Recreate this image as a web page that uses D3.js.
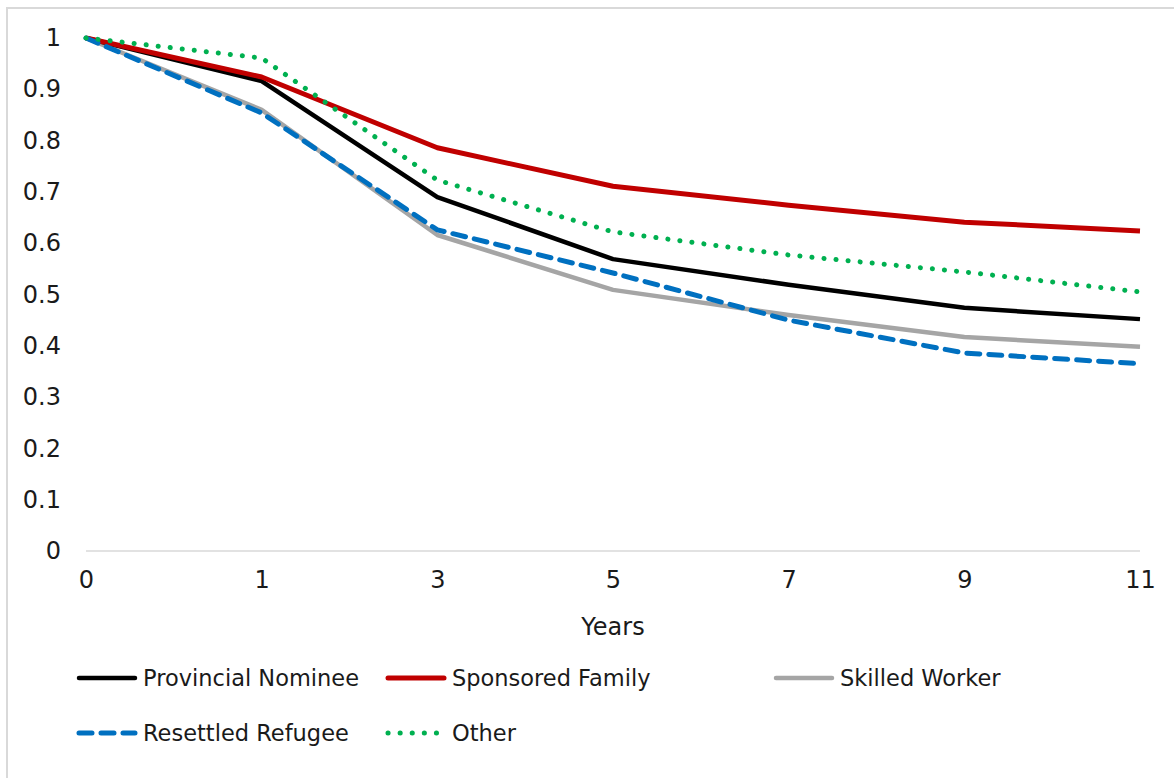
<!DOCTYPE html>
<html>
<head>
<meta charset="utf-8">
<script src="https://cdn.jsdelivr.net/npm/d3@7"></script>
<style>
  html, body { margin: 0; padding: 0; background: #fff; }
  svg { display: block; }
  text { font-family: "DejaVu Sans", "Noto Sans", sans-serif; fill: #1a1a1a; }
</style>
</head>
<body>
<svg id="chart" width="1174" height="778"></svg>
<script>
// Years since landing (categorical axis, evenly spaced)
const years = ["0", "1", "3", "5", "7", "9", "11"];

// Share of each immigrant category still present after N years
const provincialNominee = [1, 0.916, 0.690, 0.569, 0.519, 0.474, 0.452];
const sponsoredFamily   = [1, 0.924, 0.786, 0.711, 0.674, 0.641, 0.624];
const skilledWorker     = [1, 0.860, 0.616, 0.509, 0.460, 0.417, 0.398];
const resettledRefugee  = [1, 0.854, 0.626, 0.542, 0.450, 0.386, 0.365];
const other             = [1, 0.961, 0.723, 0.622, 0.577, 0.544, 0.505];

const yTicks = [0, 0.1, 0.2, 0.3, 0.4, 0.5, 0.6, 0.7, 0.8, 0.9, 1];

const seriesNames = ["Provincial Nominee", "Sponsored Family", "Skilled Worker", "Resettled Refugee", "Other"];

// drawing order: grey first so the dashed blue sits on top of it
const series = [
  { name: seriesNames[2], values: skilledWorker,     color: "#a5a5a5", width: 4.5, dash: null },
  { name: seriesNames[0], values: provincialNominee, color: "#000000", width: 4.5, dash: null },
  { name: seriesNames[1], values: sponsoredFamily,   color: "#c00000", width: 5,   dash: null },
  { name: seriesNames[3], values: resettledRefugee,  color: "#0070c0", width: 5,   dash: "13 9" },
  { name: seriesNames[4], values: other,             color: "#00b050", width: 5,   dash: "0.1 12" }
];

const svg = d3.select("#chart");

// chart frame
svg.append("rect")
  .attr("x", 7).attr("y", 8)
  .attr("width", 1180).attr("height", 790)
  .attr("fill", "none")
  .attr("stroke", "#d9d9d9")
  .attr("stroke-width", 2);

const x = d3.scalePoint().domain(years).range([86, 1140]);
const y = d3.scaleLinear().domain([0, 1]).range([551, 38]);

// x axis baseline
svg.append("line")
  .attr("x1", 86).attr("x2", 1140)
  .attr("y1", y(0)).attr("y2", y(0))
  .attr("stroke", "#d9d9d9").attr("stroke-width", 1.5);

// y axis labels
const yAxis = d3.axisLeft(y).tickValues(yTicks).tickSize(0).tickPadding(0)
  .tickFormat(d => d3.format("")(+d.toFixed(1)));
const gy = svg.append("g").attr("transform", "translate(61,0)").call(yAxis);
gy.select(".domain").remove();
gy.selectAll("text")
  .attr("font-size", 24)
  .attr("font-family", null)
  .attr("fill", "#1a1a1a");

// x axis labels
const xAxis = d3.axisBottom(x).tickSize(0).tickPadding(0);
const gx = svg.append("g").attr("transform", "translate(0,571)").call(xAxis);
gx.select(".domain").remove();
gx.selectAll("text")
  .attr("font-size", 24)
  .attr("font-family", null)
  .attr("fill", "#1a1a1a");

svg.append("text")
  .attr("x", 613).attr("y", 635)
  .attr("text-anchor", "middle")
  .attr("font-size", 24)
  .text("Years");

const line = d3.line()
  .x((d, i) => x(years[i]))
  .y(d => y(d));

svg.append("g").selectAll("path")
  .data(series)
  .join("path")
  .attr("d", d => line(d.values))
  .attr("fill", "none")
  .attr("stroke", d => d.color)
  .attr("stroke-width", d => d.width)
  .attr("stroke-linejoin", "round")
  .attr("stroke-linecap", d => d.dash ? "round" : "butt")
  .attr("stroke-dasharray", d => d.dash);

// legend
const legendItems = [
  { s: series[1], lx: 76,  ly: 678 },
  { s: series[2], lx: 385, ly: 678 },
  { s: series[0], lx: 773, ly: 678 },
  { s: series[3], lx: 76,  ly: 733 },
  { s: series[4], lx: 385, ly: 733 }
];
const lg = svg.append("g").selectAll("g").data(legendItems).join("g");
lg.append("line")
  .attr("x1", d => d.lx + 3).attr("x2", d => d.lx + 59)
  .attr("y1", d => d.ly).attr("y2", d => d.ly)
  .attr("stroke", d => d.s.color)
  .attr("stroke-width", d => d.s.width)
  .attr("stroke-linecap", "round")
  .attr("stroke-dasharray", d => d.s.dash);
lg.append("text")
  .attr("x", d => d.lx + 67)
  .attr("y", d => d.ly)
  .attr("dy", "0.36em")
  .attr("font-size", 22.5)
  .text(d => d.s.name);
</script>
</body>
</html>
